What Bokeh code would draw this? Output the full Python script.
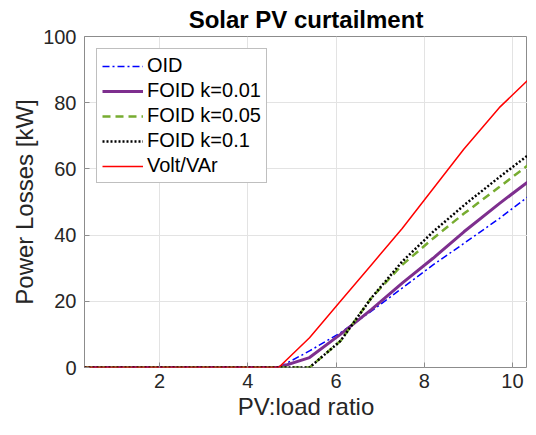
from bokeh.plotting import figure
from bokeh.models import Range1d, Legend, LegendItem, FixedTicker, Title, Spacer
from bokeh.layouts import row
from bokeh.embed import file_html
from bokeh.resources import INLINE

# Data
x = [0.3, 1.0, 2.0, 3.0, 4.0, 4.7, 5.4, 6.1, 6.8, 7.5, 8.2, 8.9, 9.7, 10.34]
oid = [0, 0, 0, 0, 0, 0, 5.0, 10.5, 17.0, 24.0, 31.0, 37.5, 45.0, 51.5]
foid_001 = [0, 0, 0, 0, 0, 0, 3.0, 10.0, 17.5, 25.5, 33.0, 41.0, 49.5, 56.0]
foid_005 = [0, 0, 0, 0, 0, 0, 0, 8.0, 21.0, 31.0, 39.0, 46.5, 54.5, 61.0]
foid_01 = [0, 0, 0, 0, 0, 0, 0, 8.0, 21.0, 32.0, 41.0, 49.0, 57.5, 64.0]
voltvar = [0, 0, 0, 0, 0, 0, 9.0, 20.0, 31.0, 42.0, 54.0, 66.0, 78.5, 86.7]
x_ticks = [2, 4, 6, 8, 10]
y_ticks = [0, 20, 40, 60, 80, 100]

FONT = "Liberation Sans"
AXC = "#262626"
FRAME = "#8c8c8c"

p = figure(frame_width=443, frame_height=331, output_backend="svg", toolbar_location=None,
           x_range=Range1d(0.3, 10.34), y_range=Range1d(0, 100),
           min_border_left=0, min_border_right=0, min_border_top=0, min_border_bottom=0)

p.title = Title(text="Solar PV curtailment", align="center", text_font=FONT,
                text_font_size="24px", text_font_style="bold", text_color="#000000",
                standoff=7)

p.outline_line_color = FRAME
p.outline_line_width = 1
p.background_fill_color = "white"
p.border_fill_color = "white"

for ax in (p.xaxis[0], p.yaxis[0]):
    ax.axis_line_color = None
    ax.major_tick_in = 5
    ax.major_tick_out = 0
    ax.minor_tick_in = 0
    ax.minor_tick_out = 0
    ax.major_tick_line_color = FRAME
    ax.major_label_text_font = FONT
    ax.major_label_text_font_size = "20px"
    ax.major_label_text_color = AXC
    ax.axis_label_text_font = FONT
    ax.axis_label_text_font_size = "24px"
    ax.axis_label_text_font_style = "normal"
    ax.axis_label_text_color = AXC

p.xaxis[0].ticker = FixedTicker(ticks=x_ticks)
p.yaxis[0].ticker = FixedTicker(ticks=y_ticks)
p.xaxis[0].axis_label = "PV:load ratio"
p.yaxis[0].axis_label = "Power Losses [kW]"
p.xaxis[0].major_label_standoff = 6
p.yaxis[0].major_label_standoff = 8
p.xaxis[0].axis_label_standoff = 2
p.yaxis[0].axis_label_standoff = 2

p.xgrid.ticker = FixedTicker(ticks=x_ticks)
p.ygrid.ticker = FixedTicker(ticks=y_ticks)
p.grid.grid_line_color = "#e3e3e3"
p.grid.grid_line_width = 1

r1 = p.line(x, oid, line_color="#0000ff", line_width=1.5, line_dash="7 3 2 3")
r2 = p.line(x, foid_001, line_color="#7e2f8e", line_width=3)
r3 = p.line(x, foid_005, line_color="#77ac30", line_width=2.5, line_dash="8 5")
r4 = p.line(x, foid_01, line_color="#000000", line_width=2.5, line_dash="2 2")
r5 = p.line(x, voltvar, line_color="#ff0000", line_width=1.5)

legend = Legend(items=[
    LegendItem(label="OID", renderers=[r1]),
    LegendItem(label="FOID k=0.01", renderers=[r2]),
    LegendItem(label="FOID k=0.05", renderers=[r3]),
    LegendItem(label="FOID k=0.1", renderers=[r4]),
    LegendItem(label="Volt/VAr", renderers=[r5]),
], location="top_left")
legend.margin = 12
legend.padding = 5
legend.spacing = 2
legend.glyph_width = 41
legend.glyph_height = 20
legend.label_height = 20
legend.label_standoff = 4
legend.label_text_font = FONT
legend.label_text_font_size = "20px"
legend.label_text_color = "#000000"
legend.border_line_color = "#7f7f7f"
legend.border_line_width = 1
legend.background_fill_alpha = 1
p.add_layout(legend, "center")

layout = row(Spacer(width=8, height=10), p)

open("out.html", "w").write(file_html(layout, INLINE))
